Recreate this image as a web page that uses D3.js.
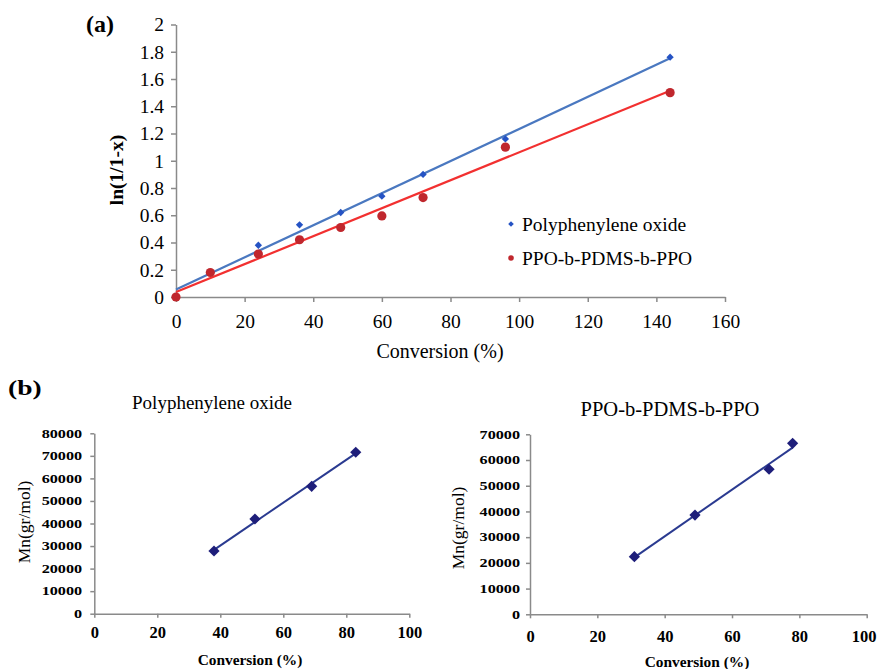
<!DOCTYPE html>
<html><head><meta charset="utf-8">
<script src="https://cdn.jsdelivr.net/npm/d3@7"></script>
<style>
body{margin:0;background:#fff}
svg{display:block}
text{font-family:"Liberation Serif","Times New Roman",serif;fill:#000}
</style>
</head><body>
<svg id="c" width="877" height="669"></svg>
<script>
// ---------- Data: panel (a) ----------
const aConversion = [0, 10, 24, 36, 48, 60, 72, 96, 144];
const aPPO        = [0, 0.18, 0.38, 0.53, 0.62, 0.74, 0.90, 1.16, 1.76];
const aCopolymer  = [0, 0.18, 0.315, 0.42, 0.51, 0.595, 0.73, 1.10, 1.50];
const aXTicks = [0, 20, 40, 60, 80, 100, 120, 140, 160];
const aYTicks = [0, 0.2, 0.4, 0.6, 0.8, 1, 1.2, 1.4, 1.6, 1.8, 2];
const aLegend = ["Polyphenylene oxide", "PPO-b-PDMS-b-PPO"];

// ---------- Data: panel (b) ----------
const bPPOConversion = [38, 51, 69, 83];
const bPPOMn         = [27800, 42000, 56500, 71600];
const bCopConversion = [31, 49, 71, 78];
const bCopMn         = [22400, 38600, 56400, 66500];
const bXTicks = [0, 20, 40, 60, 80, 100];
const bLeftYTicks  = [0, 10000, 20000, 30000, 40000, 50000, 60000, 70000, 80000];
const bRightYTicks = [0, 10000, 20000, 30000, 40000, 50000, 60000, 70000];
const bTitles = ["Polyphenylene oxide", "PPO-b-PDMS-b-PPO"];

const svg = d3.select("#c");
const AXIS = "#8a8a8a";

function fit(xs, ys) {
  const n = xs.length, mx = d3.mean(xs), my = d3.mean(ys);
  let sxy = 0, sxx = 0;
  for (let i = 0; i < n; i++) { sxy += (xs[i]-mx)*(ys[i]-my); sxx += (xs[i]-mx)**2; }
  const m = sxy / sxx, b = my - m*mx;
  const x0 = d3.min(xs), x1 = d3.max(xs);
  return [[x0, b + m*x0], [x1, b + m*x1]];
}
function styleAxis(g) {
  g.select(".domain").attr("stroke", AXIS).attr("stroke-width", 1.5);
  g.selectAll(".tick line").attr("stroke", AXIS).attr("stroke-width", 1.5);
}
const diamond = d3.symbol().type(d3.symbolDiamond2);

// ================= Panel (a) =================
const xA = d3.scaleLinear().domain([0, 160]).range([176, 725]);
const yA = d3.scaleLinear().domain([0, 2]).range([297, 24.5]);

const gA = svg.append("g");
gA.append("g").attr("transform", `translate(0,${yA(0)})`)
  .call(d3.axisBottom(xA).tickValues(aXTicks).tickSize(5).tickSizeOuter(0).tickPadding(12.5).tickFormat(d => d))
  .call(styleAxis)
  .call(g => g.selectAll("text").attr("font-size", 19.5).attr("font-family", null));
gA.append("g").attr("transform", `translate(${xA(0)},0)`)
  .call(d3.axisLeft(yA).tickValues(aYTicks).tickSize(5).tickSizeOuter(0).tickPadding(7).tickFormat(d => String(+d.toFixed(1))))
  .call(styleAxis)
  .call(g => g.selectAll("text").attr("font-size", 19.5).attr("font-family", null));

const lineA = d3.line().x(d => xA(d[0])).y(d => yA(d[1]));
const blueFit = fit(aConversion, aPPO);
const redFit = fit(aConversion, aCopolymer);
gA.append("path").attr("d", lineA(blueFit)).attr("stroke", "#4a78c0").attr("stroke-width", 2.2).attr("fill", "none");
gA.append("path").attr("d", lineA(redFit)).attr("stroke", "#f23030").attr("stroke-width", 2.2).attr("fill", "none");

gA.selectAll(".bp").data(aConversion.map((x, i) => [x, aPPO[i]])).join("path")
  .attr("transform", d => `translate(${xA(d[0])},${yA(d[1])})`)
  .attr("d", diamond.size(34)).attr("fill", "#2553c4");
gA.selectAll(".rp").data(aConversion.map((x, i) => [x, aCopolymer[i]])).join("circle")
  .attr("cx", d => xA(d[0])).attr("cy", d => yA(d[1])).attr("r", 4.6).attr("fill", "#c0272d");

// legend
const legColors = ["#2553c4", "#c0272d"];
aLegend.forEach((t, i) => {
  const y = 224 + i*34;
  if (i === 0) gA.append("path").attr("transform", `translate(511,${y})`).attr("d", diamond.size(20)).attr("fill", legColors[i]);
  else gA.append("circle").attr("cx", 511).attr("cy", y).attr("r", 2.8).attr("fill", legColors[i]);
  gA.append("text").attr("x", 522).attr("y", y + 7).attr("font-size", 19.5).text(t);
});

gA.append("text").attr("x", 440).attr("y", 358).attr("text-anchor", "middle").attr("font-size", 20).text("Conversion (%)");
gA.append("text").attr("transform", "translate(123,170) rotate(-90)").attr("text-anchor", "middle").attr("font-size", 19.5).attr("font-weight", "bold").text("ln(1/1-x)");
gA.append("text").attr("x", 86).attr("y", 32).attr("font-size", 24).attr("font-weight", "bold").text("(a)");

// ================= Panel (b) =================
svg.append("text").attr("transform", "translate(8,395) scale(1.25,1)").attr("font-size", 22).attr("font-weight", "bold").text("(b)");

function panelB(cfg) {
  const g = svg.append("g");
  const x = d3.scaleLinear().domain([0, 100]).range(cfg.xr);
  const y = d3.scaleLinear().domain([0, d3.max(cfg.yTicks)]).range(cfg.yr);
  g.append("g").attr("transform", `translate(0,${cfg.yr[0]})`)
    .call(d3.axisBottom(x).tickValues(bXTicks).tickSize(4).tickSizeOuter(0).tickPadding(cfg.xpad).tickFormat(d => d))
    .call(styleAxis)
    .call(a => a.selectAll("text").attr("font-size", 16.5).attr("font-weight", "bold").attr("font-family", null)
      .attr("dx", (d, i, n) => i === n.length - 1 ? cfg.lastDx : 0));
  g.append("g").attr("transform", `translate(${cfg.xr[0]},0)`)
    .call(d3.axisLeft(y).tickValues(cfg.yTicks).tickSize(4).tickSizeOuter(0).tickPadding(cfg.ypad).tickFormat(d => d))
    .call(styleAxis)
    .call(a => a.selectAll("text").attr("font-size", 12).attr("font-weight", "bold").attr("font-family", null)
      .attr("transform", "scale(1.35,1)"));
  const pts = cfg.xs.map((v, i) => [v, cfg.ys[i]]);
  const ln = d3.line().x(d => x(d[0])).y(d => y(d[1]));
  g.append("path").attr("d", ln(fit(cfg.xs, cfg.ys))).attr("stroke", "#2a3a90").attr("stroke-width", 2).attr("fill", "none");
  g.selectAll(".pt").data(pts).join("path")
    .attr("transform", d => `translate(${x(d[0])},${y(d[1])})`)
    .attr("d", diamond.size(80)).attr("fill", "#1e1e7a");
  g.append("text").attr("x", cfg.title[0]).attr("y", cfg.title[1]).attr("text-anchor", "middle")
    .attr("font-size", cfg.titleSize).text(cfg.titleText);
  g.append("text").attr("transform", `translate(${cfg.xt[0]},${cfg.xt[1]}) scale(1.1,1)`).attr("text-anchor", "middle")
    .attr("font-size", 14).attr("font-weight", "bold").text("Conversion (%)");
  g.append("text").attr("transform", `translate(${cfg.yt[0]},${cfg.yt[1]}) rotate(-90)`).attr("text-anchor", "middle")
    .attr("font-size", 17.5).text("Mn(gr/mol)");
}

panelB({
  xr: [94.3, 409.3], yr: [613.7, 433.3], yTicks: bLeftYTicks,
  xs: bPPOConversion, ys: bPPOMn, xpad: 8.6, ypad: 5, lastDx: 0,
  title: [212, 409], titleSize: 19, titleText: bTitles[0],
  xt: [250, 665], yt: [30, 522]
});
panelB({
  xr: [530, 866.7], yr: [614.3, 434.3], yTicks: bRightYTicks,
  xs: bCopConversion, ys: bCopMn, xpad: 11.7, ypad: 3.4, lastDx: -3,
  title: [670, 416], titleSize: 20.5, titleText: bTitles[1],
  xt: [697, 667], yt: [464, 528]
});
</script>
</body></html>
